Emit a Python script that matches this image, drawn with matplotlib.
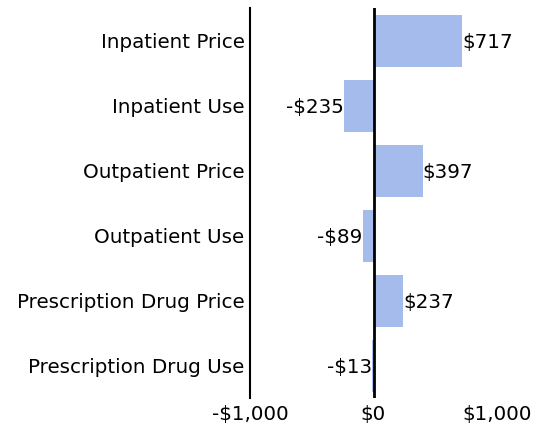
import matplotlib
matplotlib.use("Agg")
import matplotlib.pyplot as plt

categories = ["Inpatient Price", "Inpatient Use", "Outpatient Price",
              "Outpatient Use", "Prescription Drug Price", "Prescription Drug Use"]
values = [717, -235, 397, -89, 237, -13]
xticks = [-1000, 0, 1000]
xticklabels = ["-$1,000", "$0", "$1,000"]

bar_color = "#a5bbeb"
fs = 14.3

def money(v):
    return ("-$" if v < 0 else "$") + f"{abs(v):,}"

fig = plt.figure(figsize=(5.34, 4.30), dpi=100)
ax = fig.add_axes([250 / 534, 32 / 430, 247 / 534, 390 / 430])

ypos = list(range(len(categories)))
ax.barh(ypos, values, height=0.8, color=bar_color)
ax.axvline(0, color="black", lw=2)

for y, v in zip(ypos, values):
    if v >= 0:
        ax.text(v + 2, y, money(v), va="center_baseline", ha="left", fontsize=fs)
    else:
        ax.text(v - 2, y, money(v), va="center_baseline", ha="right", fontsize=fs)

ax.set_xlim(-1000, 1000)
ax.set_ylim(len(categories) - 0.5, -0.5)
ax.set_yticks(ypos)
ax.set_yticklabels(categories, fontsize=fs, va="center_baseline")
ax.set_xticks(xticks)
ax.set_xticklabels(xticklabels, fontsize=fs)
ax.tick_params(axis="y", length=0, pad=4)
ax.tick_params(axis="x", length=0, pad=5)

for s in ["top", "right", "bottom"]:
    ax.spines[s].set_visible(False)
ax.spines["left"].set_linewidth(1.5)

fig.savefig("out.png", dpi=100)
